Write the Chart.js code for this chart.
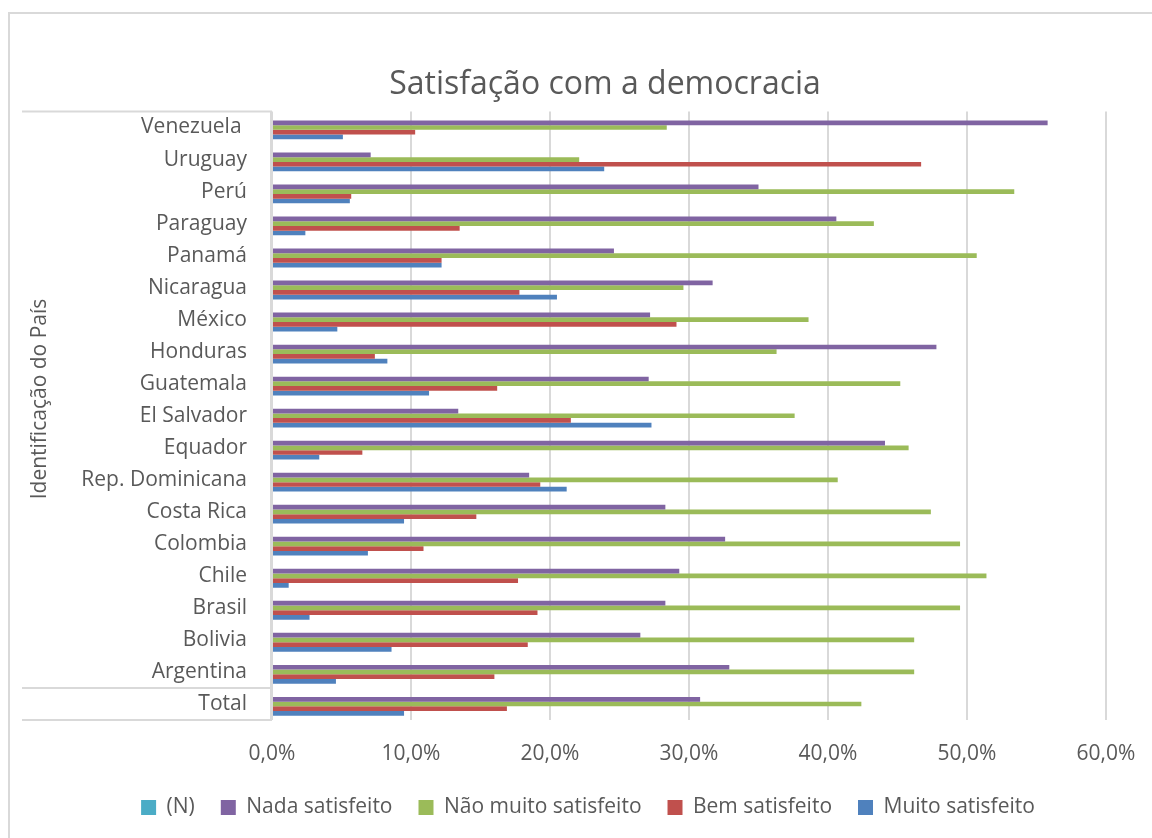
<!DOCTYPE html>
<html lang="pt">
<head>
<meta charset="utf-8">
<title>Satisfação com a democracia</title>
<script src="https://cdn.jsdelivr.net/npm/chart.js@4.4.0/dist/chart.umd.min.js"></script>
<style>
  html, body { margin: 0; padding: 0; background: #fff; }
  #wrap { width: 1152px; height: 838px; }
</style>
</head>
<body>
<div id="wrap"><canvas id="satChart" width="1152" height="838"></canvas></div>
<script>
// países, de cima para baixo
const countries = ['Venezuela ', 'Uruguay', 'Perú', 'Paraguay', 'Panamá', 'Nicaragua', 'México',
    'Honduras', 'Guatemala', 'El Salvador', 'Equador', 'Rep. Dominicana', 'Costa Rica',
    'Colombia', 'Chile', 'Brasil', 'Bolivia', 'Argentina', 'Total'];

// valores em %
const nCount   = [0, 0, 0, 0, 0, 0, 0, 0, 0, 0, 0, 0, 0, 0, 0, 0, 0, 0, 0];
const nada     = [55.8, 7.1, 35.0, 40.6, 24.6, 31.7, 27.2, 47.8, 27.1, 13.4, 44.1, 18.5, 28.3, 32.6, 29.3, 28.3, 26.5, 32.9, 30.8];
const naoMuito = [28.4, 22.1, 53.4, 43.3, 50.7, 29.6, 38.6, 36.3, 45.2, 37.6, 45.8, 40.7, 47.4, 49.5, 51.4, 49.5, 46.2, 46.2, 42.4];
const bem      = [10.3, 46.7, 5.7, 13.5, 12.2, 17.8, 29.1, 7.4, 16.2, 21.5, 6.5, 19.3, 14.7, 10.9, 17.7, 19.1, 18.4, 16.0, 16.9];
const muito    = [5.1, 23.9, 5.6, 2.4, 12.2, 20.5, 4.7, 8.3, 11.3, 27.3, 3.4, 21.2, 9.5, 6.9, 1.2, 2.7, 8.6, 4.6, 9.5];

const axisTicks = [0, 10, 20, 30, 40, 50, 60];

const chartTitle = 'Satisfação com a democracia';
const yTitle = 'Identificação do País';

const textColor = '#595959';
const lineColor = '#d9d9d9';

// moldura, caixas das categorias, título e título do eixo vertical
const frameLines = {
    id: 'frameLines',
    beforeDraw(chart) {
        const { ctx, chartArea, scales: { y } } = chart;
        ctx.save();
        ctx.strokeStyle = lineColor;
        ctx.lineWidth = 2;
        ctx.strokeRect(9, 13, 2000, 2000);

        const last = countries.length - 1;
        const sep = (y.getPixelForValue(last - 1) + y.getPixelForValue(last)) / 2;
        ctx.beginPath();
        [chartArea.top, sep, chartArea.bottom].forEach(py => {
            ctx.moveTo(22, py);
            ctx.lineTo(chartArea.left, py);
        });
        ctx.moveTo(chartArea.left - 1, chartArea.top);
        ctx.lineTo(chartArea.left - 1, chartArea.bottom);
        ctx.stroke();

        ctx.fillStyle = textColor;
        ctx.textAlign = 'center';
        ctx.textBaseline = 'middle';
        ctx.font = '32px "Open Sans"';
        ctx.fillText(chartTitle, 605, 85);

        ctx.translate(40, 399);
        ctx.rotate(-Math.PI / 2);
        ctx.font = '21px "Open Sans"';
        ctx.fillText(yTitle, 0, 0);
        ctx.restore();
    }
};

Chart.defaults.font.family = '"Open Sans", sans-serif';
Chart.defaults.color = textColor;

const ds = (label, data, color) => ({
    label: label,
    data: data,
    backgroundColor: color,
    borderWidth: 0,
    categoryPercentage: 0.735,
    barPercentage: 1
});

new Chart(document.getElementById('satChart'), {
    type: 'bar',
    data: {
        labels: countries,
        datasets: [
            ds('(N)', nCount, '#4BACC6'),
            ds('Nada satisfeito', nada, '#8064A2'),
            ds('Não muito satisfeito', naoMuito, '#9BBB59'),
            ds('Bem satisfeito', bem, '#C0504D'),
            ds('Muito satisfeito', muito, '#4F81BD')
        ]
    },
    options: {
        indexAxis: 'y',
        responsive: false,
        animation: false,
        layout: { padding: { top: 111.5, left: 70, right: 46, bottom: 10 } },
        plugins: {
            title: { display: false },
            legend: {
                position: 'bottom',
                labels: {
                    boxWidth: 15,
                    boxHeight: 15,
                    padding: 26,
                    font: { size: 21 },
                    color: textColor
                }
            },
            tooltip: { enabled: false }
        },
        scales: {
            x: {
                min: 0,
                max: 60,
                afterBuildTicks: axis => { axis.ticks = axisTicks.map(v => ({ value: v })); },
                afterFit: axis => {
                    axis.height = 51;
                    axis.paddingLeft = 0;
                    axis.paddingRight = 0;
                },
                grid: { color: lineColor, lineWidth: 2, drawTicks: false },
                border: { display: false },
                ticks: {
                    padding: 21,
                    font: { size: 21 },
                    color: textColor,
                    callback: v => v.toFixed(1).replace('.', ',') + '%'
                }
            },
            y: {
                afterFit: axis => { axis.width = 202; },
                grid: { display: false, drawTicks: false },
                border: { display: false },
                ticks: {
                    autoSkip: false,
                    padding: 25,
                    font: { size: 21 },
                    color: textColor
                }
            }
        }
    },
    plugins: [frameLines]
});
</script>
</body>
</html>
